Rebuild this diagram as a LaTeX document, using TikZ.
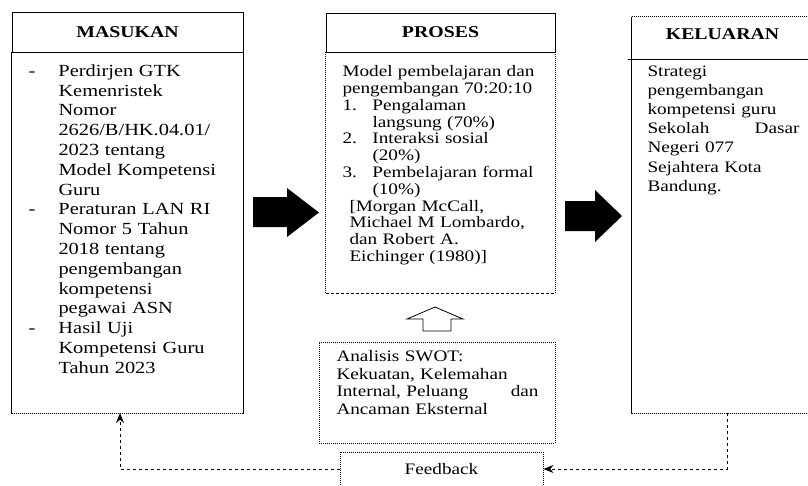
\documentclass[tikz,border=0pt]{standalone}
\usepackage{fontspec}
\setmainfont[FakeStretch=1.2]{Liberation Serif}
\usetikzlibrary{arrows.meta}

\begin{document}
\begin{tikzpicture}[x=1pt,y=-1pt,line width=1pt,
    hdr/.style={minimum height=40,inner sep=0,font=\fontsize{16.5}{19}\selectfont\bfseries},
    txt/.style={anchor=north west,inner sep=0,align=left,font=\fontsize{16}{16.8}\selectfont},
    fb/.style={dashed,-{Stealth[length=10pt,width=8pt]}}]
    \clip (0,0) rectangle (808,485);

    \node [hdr,draw,minimum width=231] (masukan) at (127.5,32) {MASUKAN};
    \node [minimum width=231,minimum height=361] (mbody) at (127.5,232.5) {};
    \draw (mbody.north west) -- (mbody.south west) (mbody.north east) -- (mbody.south east);
    \draw [densely dotted] (mbody.south west) -- (mbody.south east);
    \node [txt,text width=210,font=\fontsize{17}{19.8}\selectfont] (mtext) at (28,64) {%
        \makebox[30pt][l]{-}Perdirjen GTK\\
        \hspace*{30pt}Kemenristek\\
        \hspace*{30pt}Nomor\\
        \hspace*{30pt}2626/B/HK.04.01/\\
        \hspace*{30pt}2023 tentang\\
        \hspace*{30pt}Model Kompetensi\\
        \hspace*{30pt}Guru\\
        \makebox[30pt][l]{-}Peraturan LAN RI\\
        \hspace*{30pt}Nomor 5 Tahun\\
        \hspace*{30pt}2018 tentang\\
        \hspace*{30pt}pengembangan\\
        \hspace*{30pt}kompetensi\\
        \hspace*{30pt}pegawai ASN\\
        \makebox[30pt][l]{-}Hasil Uji\\
        \hspace*{30pt}Kompetensi Guru\\
        \hspace*{30pt}Tahun 2023};

    \node [hdr,draw,minimum width=229,minimum height=39] (proses) at (440.5,32.5) {PROSES};
    \node [minimum width=229,minimum height=241] (pbody) at (440.5,172.5) {};
    \draw [densely dotted] (pbody.north west) -- (pbody.south west) (pbody.north east) -- (pbody.south east);
    \draw [densely dashed] (pbody.south west) -- (pbody.south east);
    \node [txt,text width=210] (ptext) at (342,65) {%
        Model pembelajaran dan\\
        pengembangan 70:20:10\\
        \makebox[30pt][l]{1.}Pengalaman\\
        \hspace*{30pt}langsung (70\%)\\
        \makebox[30pt][l]{2.}Interaksi sosial\\
        \hspace*{30pt}(20\%)\\
        \makebox[30pt][l]{3.}Pembelajaran formal\\
        \hspace*{30pt}(10\%)\\
        \hspace*{7pt}[Morgan McCall,\\
        \hspace*{7pt}Michael M Lombardo,\\
        \hspace*{7pt}dan Robert A.\\
        \hspace*{7pt}Eichinger (1980)]};

    \node [hdr,minimum width=181,minimum height=42] (keluaran) at (722.5,38) {};
    \node [hdr] (ktitle) at (722.5,34) {KELUARAN};
    \draw [densely dotted] (keluaran.north west) -- (keluaran.north east);
    \draw (keluaran.north west) -- (keluaran.south west);
    \draw [line width=1.4pt] ([xshift=-4]keluaran.south west) -- (keluaran.south east);
    \node [minimum width=181,minimum height=354] (kbody) at (722.5,236) {};
    \draw (kbody.north west) -- (kbody.south west);
    \draw [densely dotted] (kbody.south west) -- (kbody.south east);
    \node [txt,text width=152,font=\fontsize{16}{19.2}\selectfont] (ktext) at (647,65) {%
        Strategi\\
        pengembangan\\
        kompetensi guru\\
        Sekolah\hfill Dasar\\
        Negeri 077\\
        Sejahtera Kota\\
        Bandung.};

    \fill (253,197) -- (287,197) -- (287,188) -- (319,212.5) -- (287,237) -- (287,227) -- (253,227) -- cycle;
    \fill (565,201) -- (595,201) -- (595,190) -- (622,216) -- (595,242) -- (595,231) -- (565,231) -- cycle;

    \node [draw,densely dotted,minimum width=236,minimum height=101] (swot) at (437,392.5) {};
    \node [txt,text width=202,font=\fontsize{16}{17.6}\selectfont] (stext) at (336,350) {%
        Analisis SWOT:\\
        Kekuatan, Kelemahan\\
        Internal, Peluang\hfill dan\\
        Ancaman Eksternal};
    \draw [line width=0.8pt] (423,331) -- (423,319) -- (407,319) -- (435,307) -- (463,319) -- (451,319) -- (451,331) -- cycle;

    \node [draw,densely dotted,minimum width=203,minimum height=34,font=\fontsize{16}{19}\selectfont] (feedback) at (441.5,469) {Feedback};

    \coordinate (kout) at (727,413);
    \coordinate (min) at (120,413);
    \draw [fb] (kout) |- (feedback.east);
    \draw [fb] (feedback.west) -| (min);
\end{tikzpicture}
\end{document}
